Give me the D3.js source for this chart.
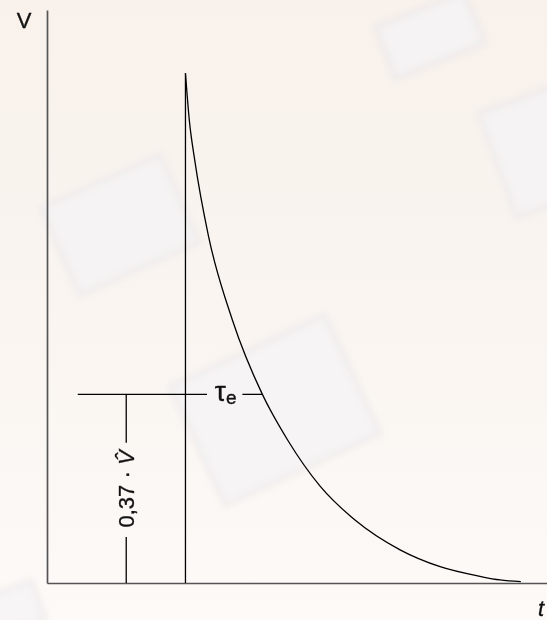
<!DOCTYPE html>
<html>
<head>
<meta charset="utf-8">
<script src="https://cdn.jsdelivr.net/npm/d3@7"></script>
<style>
    html, body { margin: 0; padding: 0; background: #fcf8f4; }
    svg { display: block; }
    text { font-family: "Liberation Sans", Arial, sans-serif; fill: #111; stroke: #111; stroke-width: 0.35px; }
</style>
</head>
<body>
<div id="chart"></div>
<script>
// decay curve (t in tau units, v relative to V peak)
var curveT = [1.8, 1.85, 1.92, 2.1, 2.41, 2.8, 3.13, 3.55, 4.0, 4.59, 5.11, 5.63, 5.89, 6.16];
var curveV = [1, 0.908, 0.83, 0.68, 0.516, 0.37, 0.28, 0.19, 0.124, 0.065, 0.032, 0.013, 0.006, 0.0025];

var peakT = 1.8;
var levelV = 0.37;
var levelT = [0.4, 2.8];          // horizontal reference line, start and end (curve)
var levelGapT = [2.08, 2.54];     // gap for the tau label
var markerT = 1.03;               // vertical marker for 0,37 * V
var markerGapV = [0.09, 0.275];   // gap for the rotated label

var labels = {
    yAxis: 'V',
    xAxis: 't',
    tau: '\u03c4',
    tauSub: 'e',
    level: '0,37 \u00b7 '
};

var W = 547, H = 620;

var svg = d3.select('#chart').append('svg')
    .attr('width', W)
    .attr('height', H);

// faded background photos
var defs = svg.append('defs');
defs.append('filter').attr('id', 'blur')
    .append('feGaussianBlur').attr('stdDeviation', 3);
defs.append('linearGradient').attr('id', 'bg')
    .attr('x1', 0).attr('y1', 0).attr('x2', 0).attr('y2', 1)
    .selectAll('stop')
    .data([['0%', '#f8f1ec'], ['55%', '#faf5f1'], ['100%', '#fdfaf7']])
    .enter().append('stop')
    .attr('offset', function (d) { return d[0]; })
    .attr('stop-color', function (d) { return d[1]; });

svg.append('rect').attr('width', W).attr('height', H).attr('fill', 'url(#bg)');

var deco = svg.append('g').attr('filter', 'url(#blur)');
var shapes = [
    { cx: 430, cy: 35, w: 95, h: 55, r: -22 },
    { cx: 540, cy: 150, w: 90, h: 110, r: -20 },
    { cx: 120, cy: 225, w: 130, h: 95, r: -24 },
    { cx: 275, cy: 410, w: 170, h: 130, r: -25 },
    { cx: 10, cy: 610, w: 60, h: 40, r: -20 }
];
shapes.forEach(function (s) {
    var g = deco.append('g')
        .attr('transform', 'translate(' + s.cx + ',' + s.cy + ') rotate(' + s.r + ')');
    g.append('rect')
        .attr('x', -s.w / 2).attr('y', -s.h / 2)
        .attr('width', s.w).attr('height', s.h)
        .attr('fill', '#f5f3f6')
        .attr('stroke', '#ebe8ea')
        .attr('stroke-width', 5)
        .attr('opacity', 0.75);
});

// scales
var x = d3.scaleLinear().domain([0, 6.5]).range([47, 547]);
var y = d3.scaleLinear().domain([0, 1.124]).range([583, 10]);

// axes without ticks
svg.append('g')
    .attr('transform', 'translate(0,' + y(0) + ')')
    .call(d3.axisBottom(x).tickValues([]).tickSizeOuter(0));
svg.append('g')
    .attr('transform', 'translate(' + x(0) + ',0)')
    .call(d3.axisLeft(y).tickValues([]).tickSizeOuter(0));
svg.selectAll('.domain')
    .attr('stroke', '#555')
    .attr('stroke-width', 1.7);

var ink = svg.append('g')
    .attr('stroke', '#000')
    .attr('stroke-width', 1.3)
    .attr('fill', 'none');

// pulse rise
ink.append('line')
    .attr('x1', x(peakT)).attr('x2', x(peakT))
    .attr('y1', y(0)).attr('y2', y(1));

// decay
var pts = curveT.map(function (t, i) { return [t, curveV[i]]; });
ink.append('path')
    .datum(pts)
    .attr('d', d3.line()
        .x(function (d) { return x(d[0]); })
        .y(function (d) { return y(d[1]); })
        .curve(d3.curveMonotoneX));

// 0,37 level line with gap for the label
ink.append('line')
    .attr('x1', x(levelT[0])).attr('x2', x(levelGapT[0]))
    .attr('y1', y(levelV)).attr('y2', y(levelV));
ink.append('line')
    .attr('x1', x(levelGapT[1])).attr('x2', x(levelT[1]))
    .attr('y1', y(levelV)).attr('y2', y(levelV));

// vertical marker with gap for the rotated label
ink.append('line')
    .attr('x1', x(markerT)).attr('x2', x(markerT))
    .attr('y1', y(levelV)).attr('y2', y(markerGapV[1]));
ink.append('line')
    .attr('x1', x(markerT)).attr('x2', x(markerT))
    .attr('y1', y(markerGapV[0])).attr('y2', y(0));

// labels
svg.append('text')
    .attr('x', 24).attr('y', 28)
    .attr('text-anchor', 'middle')
    .style('font-size', '22px')
    .text(labels.yAxis);

svg.append('text')
    .attr('x', 538).attr('y', 616)
    .style('font-size', '22px')
    .style('font-style', 'italic')
    .text(labels.xAxis);

var tau = svg.append('text')
    .attr('x', (x(levelGapT[0]) + x(levelGapT[1])) / 2 + 1)
    .attr('y', y(levelV) + 7)
    .attr('text-anchor', 'middle');
tau.append('tspan').style('font-size', '28px').text(labels.tau);
tau.append('tspan').style('font-size', '19px').attr('dy', 3).text(labels.tauSub);

var midV = (markerGapV[0] + markerGapV[1]) / 2;
var lvl = svg.append('text')
    .attr('transform', 'translate(' + (x(markerT) + 8) + ',' + (y(midV) - 1) + ') rotate(-90)')
    .attr('text-anchor', 'middle')
    .style('font-size', '22px');
lvl.append('tspan').text(labels.level);
lvl.append('tspan').style('font-style', 'italic').text('V\u0302');
</script>
</body>
</html>
